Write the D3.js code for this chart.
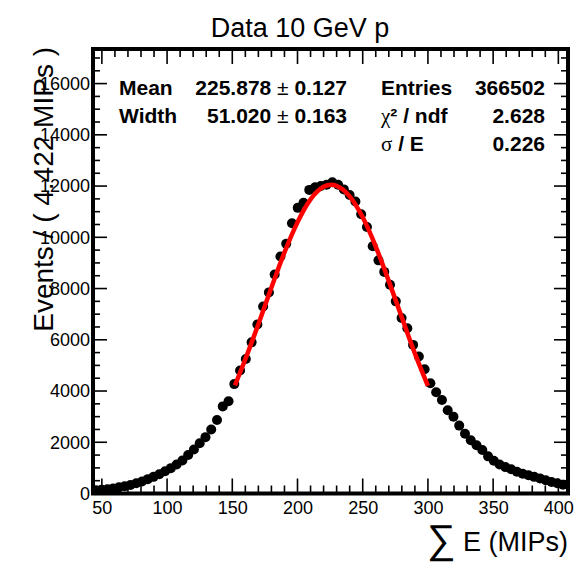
<!DOCTYPE html>
<html>
<head>
  <title>Data 10 GeV p</title>
  <script src="https://d3js.org/d3.v7.min.js"></script>
  <style>
    body { margin: 0; background: #fff; }
    text { font-family: "Liberation Sans", Arial, sans-serif; }
  </style>
</head>
<body>

<div id="chart"></div>

<script>
// histogram binning (4.422 MIPs per bin)
const binStart = 43.2;
const binWidth = 4.422;

// events per bin
const counts = [
  130, 150, 165, 200, 240, 280, 330, 400, 470, 560,
  650, 750, 870, 990, 1130, 1290, 1500, 1720, 1960, 2200,
  2500, 2870, 3400, 3600, 4270, 4800, 5250, 5900, 6600, 7300,
  7850, 8550, 9250, 9750, 10550, 11150, 11350, 11850, 11950, 12000,
  12050, 12150, 12050, 11870, 11650, 11400, 10900, 10400, 9650, 9100,
  8650, 8150, 7500, 6850, 6450, 5800, 5350, 4850, 4300, 3950,
  3650, 3250, 3000, 2650, 2330, 2080, 1880, 1700, 1450, 1280,
  1130, 1030, 950, 850, 770, 710, 650, 590, 520, 450,
  400, 340
];

// fitted curve (red)
const fitX = [152, 160, 170, 180, 190, 200, 210, 220, 226, 230, 240, 250, 260, 270, 280, 290, 300];
const fitY = [4220, 5240, 6610, 8040, 9410, 10590, 11480, 11970, 12050, 12010, 11600, 10780, 9640, 8290, 6870, 5470, 4200];

const xTicks = [50, 100, 150, 200, 250, 300, 350, 400];
const yTicks = [0, 2000, 4000, 6000, 8000, 10000, 12000, 14000, 16000];

// stats box
const statsLeft = [
  ["Mean", "225.878", "0.127"],
  ["Width", "51.020", "0.163"]
];
const statsRight = [
  ["Entries", "366502"],
  ["χ² / ndf", "2.628"],
  ["σ / E", "0.226"]
];

const W = 574, H = 562;
const frame = { left: 93, right: 568, top: 49, bottom: 493.5 };

const svg = d3.select("#chart")
  .append("svg")
  .attr("width", W)
  .attr("height", H);

const x = d3.scaleLinear()
  .domain([43.2, 407.4])
  .range([frame.left, frame.right]);

const y = d3.scaleLinear()
  .domain([0, 17350])
  .range([frame.bottom, frame.top]);

const data = counts.map((c, i) => ({ x: binStart + binWidth * (i + 0.5), y: c }));
const fit = fitX.map((v, i) => ({ x: v, y: fitY[i] }));

// title
svg.append("text")
  .attr("x", 300)
  .attr("y", 37)
  .attr("text-anchor", "middle")
  .attr("font-size", 27)
  .text("Data 10 GeV p");

// thin navy baseline
svg.append("line")
  .attr("x1", x(75)).attr("x2", frame.right)
  .attr("y1", y(0)).attr("y2", y(0))
  .attr("stroke", "#00005a")
  .attr("stroke-width", 2);

// data points
svg.append("g")
  .selectAll("circle")
  .data(data)
  .join("circle")
  .attr("cx", d => x(d.x))
  .attr("cy", d => y(d.y))
  .attr("r", 5)
  .attr("fill", "#000");

// fit curve
svg.append("path")
  .datum(fit)
  .attr("fill", "none")
  .attr("stroke", "#ff0000")
  .attr("stroke-width", 4.5)
  .attr("d", d3.line().x(d => x(d.x)).y(d => y(d.y)).curve(d3.curveMonotoneX));

// axes: labels from d3 axes, ticks drawn inside the frame
const xMinor = d3.range(50, 401, 10);
const yMinor = d3.range(0, 17001, 500);

const xAxis = svg.append("g")
  .attr("transform", `translate(0,${frame.bottom})`)
  .call(d3.axisBottom(x).tickValues(xTicks).tickFormat(d3.format("d")).tickSize(0).tickPadding(8));
xAxis.select(".domain").remove();
xAxis.selectAll("text").attr("font-size", 18).attr("fill", "#000")
  .attr("font-family", "Liberation Sans, Arial, sans-serif");

const yAxis = svg.append("g")
  .attr("transform", `translate(${frame.left},0)`)
  .call(d3.axisLeft(y).tickValues(yTicks).tickFormat(d3.format("d")).tickSize(0).tickPadding(3));
yAxis.select(".domain").remove();
yAxis.selectAll("text").attr("font-size", 18).attr("fill", "#000")
  .attr("font-family", "Liberation Sans, Arial, sans-serif");

const ticks = svg.append("g").attr("stroke", "#000").attr("stroke-width", 1.6);
xMinor.forEach(v => {
  const len = v % 50 === 0 ? 15 : 8;
  ticks.append("line").attr("x1", x(v)).attr("x2", x(v))
    .attr("y1", frame.bottom).attr("y2", frame.bottom - len);
  ticks.append("line").attr("x1", x(v)).attr("x2", x(v))
    .attr("y1", frame.top).attr("y2", frame.top + len);
});
yMinor.forEach(v => {
  const len = v % 2000 === 0 ? 14 : 7;
  ticks.append("line").attr("y1", y(v)).attr("y2", y(v))
    .attr("x1", frame.left).attr("x2", frame.left + len);
  ticks.append("line").attr("y1", y(v)).attr("y2", y(v))
    .attr("x1", frame.right).attr("x2", frame.right - len);
});

// frame
svg.append("rect")
  .attr("x", frame.left)
  .attr("y", frame.top)
  .attr("width", frame.right - frame.left)
  .attr("height", frame.bottom - frame.top)
  .attr("fill", "none")
  .attr("stroke", "#000")
  .attr("stroke-width", 4);

// axis titles
svg.append("text")
  .attr("transform", `translate(53,${frame.top - 2}) rotate(-90)`)
  .attr("text-anchor", "end")
  .attr("font-size", 28)
  .text("Events / ( 4.422 MIPs )");

const xt = svg.append("text")
  .attr("x", frame.right)
  .attr("y", 551)
  .attr("text-anchor", "end")
  .attr("font-size", 27);
xt.append("tspan").attr("font-size", 40).attr("dy", 2).text("∑");
xt.append("tspan").attr("dy", -2).text(" E (MIPs)");

// stats
const rowsY = [95, 123, 151];
statsLeft.forEach((r, i) => {
  svg.append("text").attr("x", 119).attr("y", rowsY[i])
    .attr("font-size", 21).attr("font-weight", "bold").text(r[0]);
  const t = svg.append("text").attr("x", 347).attr("y", rowsY[i])
    .attr("text-anchor", "end").attr("font-size", 21).attr("font-weight", "bold");
  t.append("tspan").text(r[1] + " ");
  t.append("tspan").attr("font-weight", "normal").text("±");
  t.append("tspan").text(" " + r[2]);
});
statsRight.forEach((r, i) => {
  const lab = svg.append("text").attr("x", 381).attr("y", rowsY[i])
    .attr("font-size", 21).attr("font-weight", "bold");
  if (r[0].startsWith("χ") || r[0].startsWith("σ")) {
    lab.append("tspan").attr("font-weight", "normal")
      .attr("font-family", "Liberation Serif, serif").text(r[0][0]);
    lab.append("tspan").text(r[0].slice(1));
  } else {
    lab.text(r[0]);
  }
  svg.append("text").attr("x", 545).attr("y", rowsY[i])
    .attr("text-anchor", "end").attr("font-size", 21).attr("font-weight", "bold")
    .text(r[1]);
});
</script>

</body>
</html>
